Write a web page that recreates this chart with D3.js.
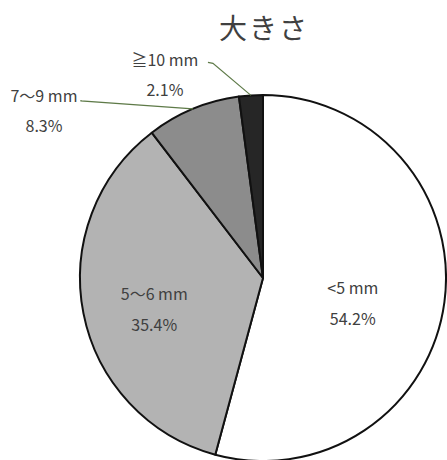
<!DOCTYPE html>
<html>
<head>
<meta charset="utf-8">
<script src="https://cdn.jsdelivr.net/npm/d3@7"></script>
<style>
  body { margin: 0; background: #fff; }
  text { font-family: "Noto Sans CJK JP", "Noto Sans", sans-serif; fill: #404040; }
</style>
</head>
<body>
<div id="chart"></div>
<script>
var title = "大きさ";
var categories = [ "<5 mm", "5～6 mm", "7～9 mm", "≧10 mm" ];
var values = [ 54.2, 35.4, 8.3, 2.1 ];
var colors = [ "#ffffff", "#b3b3b3", "#8c8c8c", "#262626" ];

var width = 447;
var height = 460;
var cx = 263;
var cy = 278;
var radius = 183;

var svg = d3.select( "#chart" ).append( "svg" )
    .attr( "width", width )
    .attr( "height", height );

svg.append( "text" )
    .attr( "x", 264 )
    .attr( "y", 27 )
    .attr( "text-anchor", "middle" )
    .attr( "dominant-baseline", "central" )
    .style( "font-size", "28px" )
    .style( "letter-spacing", "2px" )
    .text( title );

var pie = d3.pie().sort( null ).value( function( d ) { return d; });
var arcs = pie( values );

var arc = d3.arc().innerRadius( 0 ).outerRadius( radius );
var labelArc = d3.arc().innerRadius( radius * 0.55 ).outerRadius( radius * 0.55 );
var edgeArc = d3.arc().innerRadius( radius ).outerRadius( radius );

var g = svg.append( "g" ).attr( "transform", "translate(" + cx + "," + cy + ")" );

g.selectAll( "path.slice" )
    .data( arcs )
    .enter().append( "path" )
    .attr( "class", "slice" )
    .attr( "d", arc )
    .attr( "fill", function( d, i ) { return colors[ i ]; })
    .attr( "stroke", "#111" )
    .attr( "stroke-width", 2 )
    .attr( "stroke-linejoin", "round" );

// big slices: labels inside
arcs.slice( 0, 2 ).forEach( function( d, i ) {
    var c = labelArc.centroid( d );
    var t = g.append( "text" )
        .attr( "text-anchor", "middle" )
        .style( "font-size", "16px" );
    t.append( "tspan" ).attr( "x", c[ 0 ] - 10 ).attr( "y", c[ 1 ] - 4 )
        .attr( "dominant-baseline", "central" ).text( categories[ i ] );
    t.append( "tspan" ).attr( "x", c[ 0 ] - 10 ).attr( "y", c[ 1 ] + 27 )
        .attr( "dominant-baseline", "central" ).text( values[ i ].toFixed( 1 ) + "%" );
});

// small slices: labels outside with leader lines
var outside = [
    { idx: 2, elbow: [ -112, -9 ], shelf: 0, textX: -37, textY: -5 },
    { idx: 3, elbow: [ -43, -33 ], shelf: 5, textX: -43, textY: -3 }
];

outside.forEach( function( o ) {
    var d = arcs[ o.idx ];
    var p = edgeArc.centroid( d );
    var e = [ p[ 0 ] + o.elbow[ 0 ], p[ 1 ] + o.elbow[ 1 ] ];
    var pts = [ e, [ e[ 0 ] + o.shelf, e[ 1 ] + 1 ], p ];
    g.append( "path" )
        .attr( "d", d3.line()( pts ) )
        .attr( "fill", "none" )
        .attr( "stroke", "#5e7a48" )
        .attr( "stroke-width", 1.2 );
    var tx = e[ 0 ] + o.textX;
    var ty = e[ 1 ] + o.textY;
    var t = g.append( "text" )
        .attr( "text-anchor", "middle" )
        .style( "font-size", "16px" );
    t.append( "tspan" ).attr( "x", tx ).attr( "y", ty )
        .attr( "dominant-baseline", "central" ).text( categories[ o.idx ] );
    t.append( "tspan" ).attr( "x", tx ).attr( "y", ty + 30 )
        .attr( "dominant-baseline", "central" ).text( values[ o.idx ].toFixed( 1 ) + "%" );
});
</script>
</body>
</html>
